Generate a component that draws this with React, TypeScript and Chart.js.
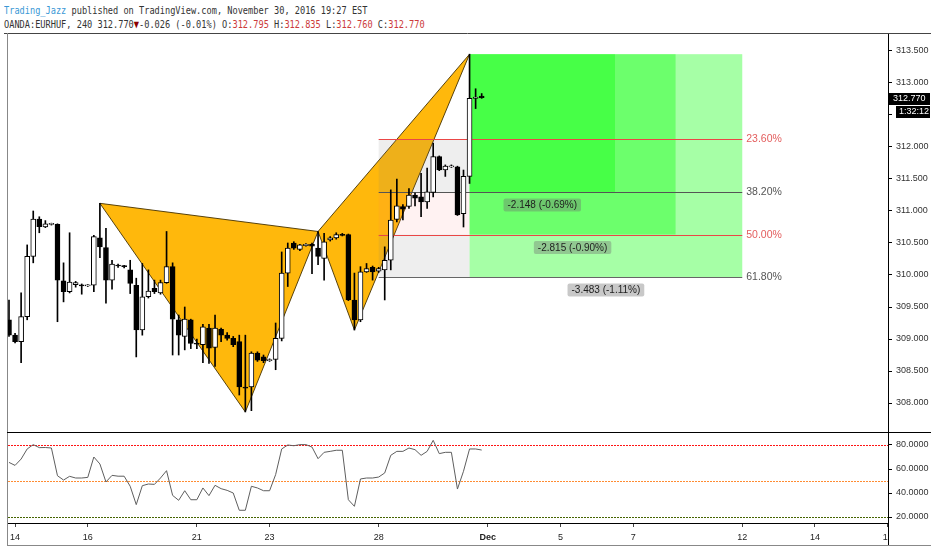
import React, { useEffect, useRef } from 'react';
import { Chart, registerables } from 'chart.js';
Chart.register(...registerables);

// ---- data ----
// candle index: 0 = Nov 14 00:00, one step = one 4h bar
const candleIndex = Array.from({ length: 79 }, (_, k) => k - 1);
const opens = [309.30,309.06,308.96,309.35,310.29,310.875,310.75,310.79,310.79,309.91,
  309.74,309.85,309.84,309.83,309.84,310.58,310.43,309.92,310.15,310.14,
  310.08,309.84,309.14,309.66,309.79,309.72,309.88,310.13,309.30,309.04,
  309.30,308.93,308.91,309.17,308.87,309.15,309.06,309.01,308.96,308.25,
  308.25,308.78,308.72,308.66,308.68,309.01,310.03,310.50,310.40,310.46,
  310.48,310.42,310.26,310.55,310.58,310.63,310.63,309.61,309.30,310.05,
  310.12,310.06,310.08,310.23,310.87,311.07,311.07,311.25,311.22,311.14,
  311.29,311.85,311.64,311.69,311.69,310.96,311.54,312.76,312.795];
const highs = [309.61,309.09,309.72,310.47,311.00,310.91,310.85,310.81,310.80,310.19,
  310.66,309.90,309.86,309.85,310.62,311.12,310.73,310.23,310.17,310.15,
  310.23,309.95,310.18,310.08,309.92,309.92,310.68,310.19,309.375,309.50,
  309.31,309.00,309.23,309.23,309.375,309.17,309.10,309.04,309.06,309.06,
  308.80,308.80,308.75,308.69,309.25,310.36,310.50,310.52,310.48,310.49,
  310.50,310.68,310.65,310.60,310.66,310.65,310.64,310.03,310.13,310.18,
  310.14,310.12,310.44,311.33,311.50,311.10,311.35,311.28,311.59,311.67,
  312.06,311.86,311.72,311.72,311.70,311.64,313.45,312.91,312.835];
const lows = [309.04,308.94,308.63,309.30,310.19,310.66,310.74,310.78,309.27,309.58,
  309.72,309.81,309.70,309.82,309.74,310.27,309.56,309.78,310.12,310.11,
  309.71,308.72,309.06,309.64,309.71,309.70,309.87,308.75,308.75,308.83,
  308.85,308.85,308.63,308.62,308.57,308.96,308.98,308.88,308.125,307.86,
  307.88,308.65,308.63,308.65,308.52,308.97,309.82,310.40,310.38,310.45,
  310.02,310.16,309.92,310.53,310.56,310.61,309.60,309.14,309.27,310.04,
  309.92,310.04,309.61,310.08,310.83,310.86,311.04,311.08,310.91,311.04,
  311.22,311.63,311.54,311.68,310.93,310.75,311.43,312.60,312.76];
const closes = [309.06,308.96,309.35,310.29,310.875,310.755,310.80,310.80,309.92,309.74,
  309.89,309.88,309.83,309.84,310.60,310.44,309.92,310.17,310.14,310.13,
  309.87,309.14,309.66,309.75,309.74,309.88,310.13,309.31,309.06,309.31,
  308.93,308.92,309.19,308.855,309.17,309.06,309.01,308.91,308.25,308.23,
  308.78,308.67,308.66,308.68,309.01,310.03,310.42,310.42,310.47,310.48,
  310.45,310.29,310.52,310.58,310.63,310.62,309.61,309.30,310.05,310.10,
  310.05,310.10,310.23,310.86,311.08,311.03,311.25,311.20,311.14,311.30,
  311.85,311.64,311.70,311.70,310.94,311.54,312.76,312.78,312.77];
const rsiValues = [65.5,63.0,68.3,76.7,80.3,77.8,77.9,77.5,54.4,50.8,
  53.9,52.5,52.5,53.0,70.0,64.2,49.2,54.7,54.0,54.0,
  45.6,30.3,46.1,47.5,47.2,52.5,58.6,38.0,33.9,41.9,
  34.4,34.4,44.2,37.8,46.4,43.6,42.2,40.0,25.6,25.6,
  45.6,44.2,41.9,41.9,55.3,76.7,80.0,79.4,80.3,80.3,
  78.3,68.6,73.9,74.7,75.6,75.6,34.4,28.9,51.7,52.5,
  52.5,53.3,56.7,71.4,74.7,74.7,77.5,76.1,71.4,74.7,
  83.9,72.8,73.9,73.9,43.3,58.1,76.7,76.7,75.8];

const xTickIndex = [0, 12, 30, 42, 60, 78, 90, 102, 120, 132, 144];
const xTickLabels = ['14', '16', '21', '23', '28', 'Dec', '5', '7', '12', '14', '16'];
const priceTicks = [308, 308.5, 309, 309.5, 310, 310.5, 311, 311.5, 312, 312.5, 313, 313.5];
const rsiTicks = [20, 40, 60, 80];
const rsiLevels = [80, 50, 20];

// harmonic pattern X A B C D
const patternIndex = [14, 38, 50, 56, 75];
const patternPrice = [311.12, 307.86, 310.68, 309.14, 313.45];

// fibonacci retracement
const fibRatios = [0.236, 0.382, 0.5, 0.618];
const fibLabels = ['23.60%', '38.20%', '50.00%', '61.80%'];
const fibHigh = 313.45;
const fibLow = 307.815;
const fibStartIndex = 60;
const fibPivotIndex = 75;
const fibEndIndex = 120;
const targetEndIndex = [99, 109, 120];
const moveLabels = ['-2.148 (-0.69%)', '-2.815 (-0.90%)', '-3.483 (-1.11%)'];

const lastPrice = 312.77;
const countdown = '1:32:12';

const X_MIN = -1.33;
const X_MAX = 144.05;
const PRICE_MIN = 307.547;
const PRICE_MAX = 313.781;
const RSI_MIN = 15;
const RSI_MAX = 90;

const AXIS_FONT = 'Liberation Sans';
const LEVEL_COLORS = ['rgb(255,20,20)', 'rgb(255,140,50)', 'rgb(70,100,0)'];

function zeroPad(s: any) {
  s.paddingTop = 0; s.paddingBottom = 0; s.paddingLeft = 0; s.paddingRight = 0;
}

const drawingsPlugin = {
  id: 'drawings',
  beforeDatasetsDraw(chart: any) {
    const { ctx, chartArea, scales } = chart;
    const xs = scales.x, ys = scales.y;
    const px = (i: number) => xs.getPixelForValue(i);
    const py = (p: number) => ys.getPixelForValue(p);
    const range = fibHigh - fibLow;
    const fp = fibRatios.map(r => fibHigh - r * range);
    ctx.save();
    ctx.beginPath();
    ctx.rect(chartArea.left, chartArea.top, chartArea.right - chartArea.left, chartArea.bottom - chartArea.top);
    ctx.clip();

    // green target zones
    targetEndIndex.forEach((end, j) => {
      ctx.fillStyle = 'rgba(0,255,0,0.35)';
      const x0 = px(fibPivotIndex), x1 = px(end);
      const y0 = py(fibHigh), y1 = py(fp[j + 1]);
      ctx.fillRect(x0, y0, x1 - x0, y1 - y0);
    });

    // pattern triangles
    const pts = patternIndex.map((i, j) => [px(i), py(patternPrice[j])]);
    const tri = (a: number[], b: number[], c: number[]) => {
      ctx.beginPath();
      ctx.moveTo(a[0], a[1]); ctx.lineTo(b[0], b[1]); ctx.lineTo(c[0], c[1]); ctx.closePath();
      ctx.fillStyle = 'rgb(255,184,12)';
      ctx.fill();
      ctx.strokeStyle = 'rgba(70,50,0,0.9)';
      ctx.lineWidth = 1;
      ctx.stroke();
    };
    tri(pts[0], pts[1], pts[2]);
    tri(pts[2], pts[3], pts[4]);

    // fib retracement zones
    const bx0 = px(fibStartIndex), bx1 = px(fibPivotIndex);
    const zoneColors = ['rgba(120,120,120,0.13)', 'rgba(255,110,110,0.09)', 'rgba(120,120,120,0.13)'];
    for (let j = 0; j < 3; j++) {
      ctx.fillStyle = zoneColors[j];
      ctx.fillRect(bx0, py(fp[j]), bx1 - bx0, py(fp[j + 1]) - py(fp[j]));
    }

    // fib lines and labels
    const lineColors = ['rgb(235,70,70)', '#555', 'rgb(235,70,70)', '#666'];
    const textColors = ['#e35d5d', '#555', '#e35d5d', '#555'];
    const lx1 = px(fibEndIndex);
    fp.forEach((p, j) => {
      const yy = Math.round(py(p)) + 0.5;
      ctx.strokeStyle = lineColors[j];
      ctx.lineWidth = 1;
      ctx.beginPath(); ctx.moveTo(bx0, yy); ctx.lineTo(lx1, yy); ctx.stroke();
      ctx.fillStyle = textColors[j];
      ctx.font = '10.5px "Liberation Sans"';
      ctx.textAlign = 'left';
      ctx.textBaseline = 'middle';
      ctx.fillText(fibLabels[j], lx1 + 4, yy);
    });

    // move labels
    ctx.font = '10px "Liberation Sans"';
    moveLabels.forEach((t, j) => {
      const cx = (px(fibPivotIndex) + px(targetEndIndex[j])) / 2;
      const cy = py(fp[j + 1]) + 13;
      const w = ctx.measureText(t).width + 8;
      const h = 13;
      ctx.fillStyle = 'rgba(110,110,110,0.38)';
      ctx.beginPath();
      ctx.roundRect(cx - w / 2, cy - h / 2, w, h, 2);
      ctx.fill();
      ctx.fillStyle = '#1e1e1e';
      ctx.textAlign = 'center';
      ctx.textBaseline = 'middle';
      ctx.fillText(t, cx, cy + 0.5);
    });
    ctx.restore();
  },
  afterDraw(chart: any) {
    const { ctx, chartArea, scales } = chart;
    ctx.save();
    // frame
    ctx.strokeStyle = '#444';
    ctx.lineWidth = 1;
    ctx.beginPath(); ctx.moveTo(4, 0.5); ctx.lineTo(931, 0.5); ctx.stroke();
    ctx.strokeStyle = '#888';
    ctx.beginPath(); ctx.moveTo(chartArea.left + 0.5, 0); ctx.lineTo(chartArea.left + 0.5, chartArea.bottom); ctx.stroke();
    ctx.strokeStyle = '#000';
    ctx.beginPath(); ctx.moveTo(chartArea.left, chartArea.bottom + 0.5); ctx.lineTo(931, chartArea.bottom + 0.5); ctx.stroke();
    // price tag
    const yp = Math.round(scales.y.getPixelForValue(lastPrice)) + 1;
    ctx.fillStyle = '#000';
    ctx.fillRect(889, yp - 6, 41, 12);
    ctx.fillStyle = '#fff';
    ctx.font = '9px "Liberation Sans"';
    ctx.textAlign = 'left';
    ctx.textBaseline = 'middle';
    ctx.fillText(lastPrice.toFixed(3), 893, yp);
    ctx.fillStyle = '#000';
    ctx.fillRect(896, yp + 7, 34, 12);
    ctx.fillStyle = '#fff';
    ctx.fillText(countdown, 899, yp + 13);
    ctx.restore();
  },
};

const rsiPlugin = {
  id: 'rsiDecor',
  beforeDatasetsDraw(chart: any) {
    const { ctx, chartArea, scales } = chart;
    ctx.save();
    ctx.lineWidth = 1;
    ctx.setLineDash([2, 1]);
    rsiLevels.forEach((v, j) => {
      const yy = Math.round(scales.y.getPixelForValue(v)) + 0.5;
      ctx.strokeStyle = LEVEL_COLORS[j];
      ctx.beginPath(); ctx.moveTo(chartArea.left + 1, yy); ctx.lineTo(chartArea.right, yy); ctx.stroke();
    });
    ctx.restore();
  },
  afterDraw(chart: any) {
    const { ctx, chartArea, height } = chart;
    ctx.save();
    ctx.lineWidth = 1;
    ctx.fillStyle = '#fff';
    ctx.fillRect(chartArea.right + 1, chartArea.bottom + 1, 932 - chartArea.right, height - chartArea.bottom);
    ctx.strokeStyle = '#000';
    ctx.beginPath(); ctx.moveTo(chartArea.right + 0.5, 0); ctx.lineTo(chartArea.right + 0.5, height - 4); ctx.stroke();
    ctx.strokeStyle = '#888';
    ctx.beginPath(); ctx.moveTo(chartArea.left + 0.5, 0); ctx.lineTo(chartArea.left + 0.5, height - 4); ctx.stroke();
    ctx.beginPath(); ctx.moveTo(chartArea.left, height - 4.5); ctx.lineTo(931, height - 4.5); ctx.stroke();
    ctx.restore();
  },
};

export default function App() {
  const mainRef = useRef<HTMLCanvasElement>(null);
  const rsiRef = useRef<HTMLCanvasElement>(null);

  useEffect(() => {
    document.body.style.margin = '0';
    const bodies = candleIndex.map((i, k) => ({ x: i, y: [opens[k], closes[k]] }));
    const wicks = candleIndex.map((i, k) => ({ x: i, y: [lows[k], highs[k]] }));
    const bodyColors = candleIndex.map((_, k) => (closes[k] >= opens[k] ? '#ffffff' : '#000000'));

    const main = new Chart(mainRef.current as HTMLCanvasElement, {
      type: 'bar',
      data: {
        datasets: [
          {
            data: bodies as any,
            backgroundColor: bodyColors,
            borderColor: '#000',
            borderWidth: 1,
            borderSkipped: false,
            barThickness: 5,
            minBarLength: 1,
            grouped: false,
          } as any,
          {
            data: wicks as any,
            backgroundColor: '#000',
            borderWidth: 0,
            barThickness: 1,
            grouped: false,
          } as any,
        ],
      },
      options: {
        animation: false,
        responsive: false,
        events: [],
        layout: { padding: { left: 7, right: 0, top: 0, bottom: 1 } },
        plugins: { legend: { display: false }, tooltip: { enabled: false } },
        scales: {
          x: { type: 'linear', min: X_MIN, max: X_MAX, display: false, offset: false },
          y: {
            type: 'linear',
            position: 'right',
            min: PRICE_MIN,
            max: PRICE_MAX,
            beginAtZero: false,
            afterBuildTicks: (s: any) => { s.ticks = priceTicks.map(v => ({ value: v })); },
            afterFit: (s: any) => { s.width = 44; zeroPad(s); },
            ticks: {
              callback: (v: any) => Number(v).toFixed(3),
              font: { family: AXIS_FONT, size: 9 },
              color: '#333',
              padding: 4,
            },
            grid: { drawOnChartArea: false, drawTicks: true, tickLength: 4, color: '#000' },
            border: { display: true, color: '#000' },
          },
        },
      } as any,
      plugins: [drawingsPlugin],
    });

    const rsi = new Chart(rsiRef.current as HTMLCanvasElement, {
      type: 'line',
      data: {
        datasets: [
          {
            data: candleIndex.map((i, k) => ({ x: i, y: rsiValues[k] })),
            borderColor: '#5e5e5e',
            borderWidth: 1,
            pointRadius: 0,
            tension: 0,
            fill: false,
          },
        ],
      },
      options: {
        animation: false,
        responsive: false,
        events: [],
        layout: { padding: { left: 7, right: 0, top: 0, bottom: 0 } },
        plugins: { legend: { display: false }, tooltip: { enabled: false } },
        scales: {
          x: {
            type: 'linear',
            min: X_MIN,
            max: X_MAX,
            offset: false,
            afterBuildTicks: (s: any) => { s.ticks = xTickIndex.map(v => ({ value: v })); },
            afterFit: (s: any) => { s.height = 27; zeroPad(s); },
            ticks: {
              autoSkip: false,
              maxRotation: 0,
              padding: 5,
              color: '#222',
              callback: (v: any) => { const j = xTickIndex.indexOf(Number(v)); return j >= 0 ? xTickLabels[j] : ''; },
              font: (c: any) => ({ family: AXIS_FONT, size: 9, weight: xTickLabels[c.index] === 'Dec' ? 'bold' : 'normal' }),
            },
            grid: { drawOnChartArea: false, drawTicks: true, tickLength: 4, color: '#444' },
            border: { display: true, color: '#000' },
          },
          y: {
            type: 'linear',
            position: 'right',
            min: RSI_MIN,
            max: RSI_MAX,
            afterBuildTicks: (s: any) => { s.ticks = rsiTicks.map(v => ({ value: v })); },
            afterFit: (s: any) => { s.width = 44; zeroPad(s); },
            ticks: {
              callback: (v: any) => Number(v).toFixed(4),
              font: { family: AXIS_FONT, size: 9 },
              color: '#333',
              padding: 4,
            },
            grid: { drawOnChartArea: false, drawTicks: true, tickLength: 4, color: '#000' },
            border: { display: true, color: '#000' },
          },
        },
      } as any,
      plugins: [rsiPlugin],
    });

    return () => { main.destroy(); rsi.destroy(); };
  }, []);

  const lineStyle: React.CSSProperties = {
    position: 'absolute', left: 4, whiteSpace: 'pre', fontFamily: '"DejaVu Sans Mono", monospace',
    fontSize: 11, lineHeight: '14px', color: '#333', transform: 'scaleX(0.784)', transformOrigin: 'left center',
  };
  const red = '#cc3a3a';

  return (
    <div style={{ position: 'fixed', left: 0, top: 0, width: 932, height: 550, background: '#fff', overflow: 'hidden' }}>
      <div style={{ ...lineStyle, top: 4 }}>
        <span style={{ color: '#3a98d6' }}>Trading_Jazz</span> published on TradingView.com, November 30, 2016 19:27 EST
      </div>
      <div style={{ ...lineStyle, top: 18 }}>
        OANDA:EURHUF, 240 312.770<span style={{ color: '#8b0000' }}>▼</span>-0.026 (-0.01%) O:<span style={{ color: red }}>312.795</span> H:<span style={{ color: red }}>312.835</span> L:<span style={{ color: red }}>312.760</span> C:<span style={{ color: red }}>312.770</span>
      </div>
      <canvas ref={mainRef} width={932} height={400} style={{ position: 'absolute', left: 0, top: 33 }} />
      <canvas ref={rsiRef} width={932} height={117} style={{ position: 'absolute', left: 0, top: 433 }} />
    </div>
  );
}
